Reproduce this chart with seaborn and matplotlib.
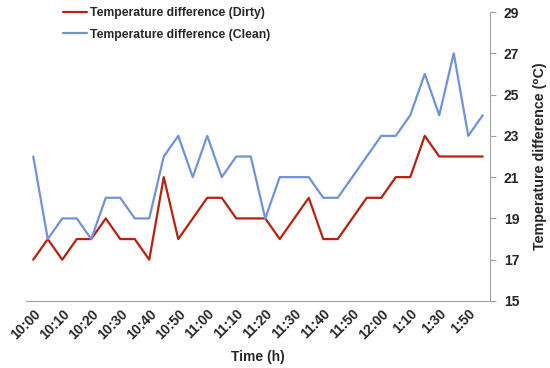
import pandas as pd
import matplotlib
matplotlib.use("Agg")
import matplotlib.pyplot as plt
import seaborn as sns

# === Dados ===
horas = ["10:00", "10:05", "10:10", "10:15", "10:20", "10:25", "10:30", "10:35",
         "10:40", "10:45", "10:50", "10:55", "11:00", "11:05", "11:10", "11:15",
         "11:20", "11:25", "11:30", "11:35", "11:40", "11:45", "11:50", "11:55",
         "12:00", "1:00", "1:10", "1:20", "1:30", "1:40", "1:50", "2:00"]
dif_suja = [17, 18, 17, 18, 18, 19, 18, 18, 17, 21, 18, 19, 20, 20, 19, 19,
            19, 18, 19, 20, 18, 18, 19, 20, 20, 21, 21, 23, 22, 22, 22, 22]
dif_limpa = [22, 18, 19, 19, 18, 20, 20, 19, 19, 22, 23, 21, 23, 21, 22, 22,
             19, 21, 21, 21, 20, 20, 21, 22, 23, 23, 24, 26, 24, 27, 23, 24]
nome_suja = "Temperature difference (Dirty)"
nome_limpa = "Temperature difference (Clean)"
y_ticks = [15, 17, 19, 21, 23, 25, 27, 29]

df = pd.DataFrame({
    "pos": list(range(len(horas))) * 2,
    "valor": dif_suja + dif_limpa,
    "serie": [nome_suja] * len(horas) + [nome_limpa] * len(horas),
})

# === Plot ===
sns.set_style("white")
plt.rcParams["font.family"] = ["Liberation Sans", "DejaVu Sans"]
fig, ax = plt.subplots(figsize=(5.5, 3.68), dpi=100)
fig.subplots_adjust(left=26 / 550, right=490 / 550, top=1 - 12 / 368, bottom=1 - 301 / 368)

sns.lineplot(data=df, x="pos", y="valor", hue="serie",
             palette={nome_suja: "#B8200F", nome_limpa: "#7092D8"},
             linewidth=1.6, ax=ax, legend=False)

ax.set_xlim(-0.5, len(horas) - 0.5)
ax.set_ylim(15, 29)
ax.set_yticks(y_ticks)
ax.set_yticklabels([str(v) for v in y_ticks], fontsize=10, fontweight="bold")
ax.yaxis.tick_right()
ax.yaxis.set_label_position("right")

ax.set_xticks([i - 0.5 for i in range(len(horas) + 1)], minor=True)
ax.set_xticks(list(range(0, len(horas), 2)))
ax.set_xticklabels(horas[::2], rotation=45, ha="right", rotation_mode="anchor",
                   fontsize=10, fontweight="bold")
ax.tick_params(axis="x", which="major", length=0, pad=4)
ax.tick_params(axis="x", which="minor", length=4, color="#A0A0A0", width=0.8)
ax.tick_params(axis="y", length=4, color="#A0A0A0", width=0.8, pad=6)

for lado in ["left", "top"]:
    ax.spines[lado].set_visible(False)
for lado in ["bottom", "right"]:
    ax.spines[lado].set_color("#A0A0A0")
    ax.spines[lado].set_linewidth(0.8)

ax.set_xlabel("Time (h)", fontsize=10, fontweight="bold", labelpad=6)
ax.set_ylabel("Temperature difference (\u2070C)", fontsize=10.3, fontweight="bold", labelpad=10)

linhas = ax.get_lines()
ax.legend(linhas[:2], [nome_suja, nome_limpa], loc="upper left",
          bbox_to_anchor=(56 / 550, 1.0), bbox_transform=fig.transFigure,
          frameon=False, prop={"size": 8.8, "weight": "bold"},
          handlelength=1.9, handletextpad=0.3, labelspacing=0.75, borderaxespad=0.2)

plt.savefig("out.png", dpi=100)
